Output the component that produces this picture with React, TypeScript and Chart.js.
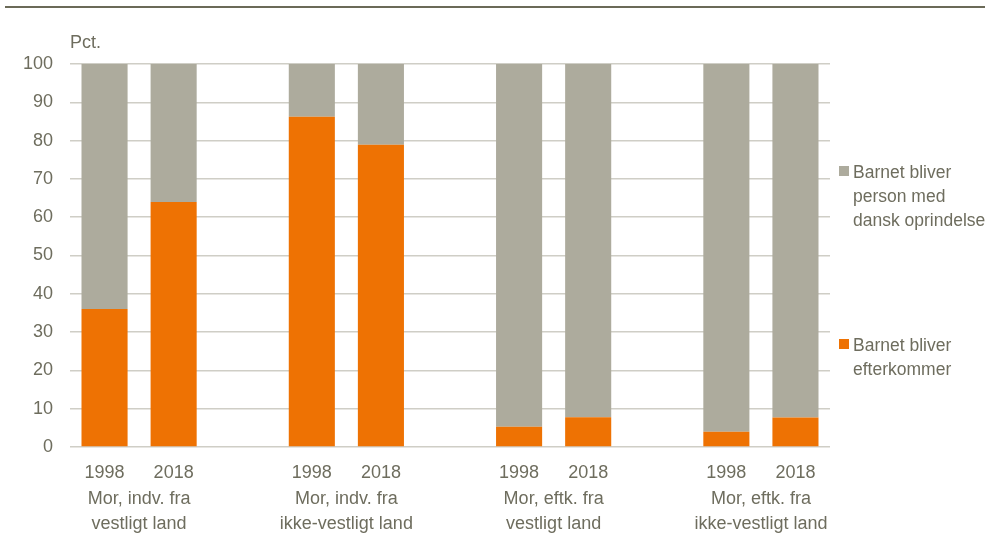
import React, { useEffect, useRef } from "react";
import { Chart, registerables } from "chart.js";

Chart.register(...registerables);

const categories = ["1998", "2018", "", "1998", "2018", "", "1998", "2018", "", "1998", "2018"];
const efterkommer = [36, 64, null, 86.2, 78.9, null, 5.3, 7.8, null, 4.0, 7.7];
const danskOprindelse = [64, 36, null, 13.8, 21.1, null, 94.7, 92.2, null, 96.0, 92.3];
// group labels sit between the two bars of each pair (half-slot positions on a 0..22 grid)
const groupLabelSlots = [2, 8, 14, 20];
const groupLabelsLine1 = ["Mor, indv. fra", "Mor, indv. fra", "Mor, eftk. fra", "Mor, eftk. fra"];
const groupLabelsLine2 = ["vestligt land", "ikke-vestligt land", "vestligt land", "ikke-vestligt land"];
const seriesNames = [
  ["Barnet bliver", "efterkommer"],
  ["Barnet bliver", "person med", "dansk oprindelse"],
];
const yAxisTitle = "Pct.";

function halfSlotLabels(texts: string[]): string[] {
  const arr = Array.from({ length: categories.length * 2 + 1 }, () => "");
  groupLabelSlots.forEach((s, i) => {
    arr[s] = texts[i];
  });
  return arr;
}

const ORANGE = "#EE7203";
const GREY = "#ADAB9D";
const TEXT = "#6E6D5E";
const GRID = "#CFCEC6";
const FONT = "'Liberation Sans', Arial, sans-serif";

const decorPlugin = {
  id: "decor",
  afterDraw(chart: any) {
    const ctx = chart.ctx;
    const area = chart.chartArea;
    ctx.save();
    ctx.strokeStyle = "#6B6A58";
    ctx.lineWidth = 2;
    ctx.beginPath();
    ctx.moveTo(5, 7);
    ctx.lineTo(985, 7);
    ctx.stroke();
    ctx.fillStyle = TEXT;
    ctx.font = `18px ${FONT}`;
    ctx.textBaseline = "middle";
    ctx.textAlign = "left";
    ctx.fillText(yAxisTitle, area.left, 43);
    const items = [
      { color: GREY, lines: seriesNames[1], y: 173 },
      { color: ORANGE, lines: seriesNames[0], y: 346 },
    ];
    ctx.font = `17.5px ${FONT}`;
    items.forEach((it) => {
      ctx.fillStyle = it.color;
      ctx.fillRect(839, it.y - 7, 10, 10);
      ctx.fillStyle = TEXT;
      it.lines.forEach((ln: string, i: number) => {
        ctx.fillText(ln, 853, it.y + i * 24);
      });
    });
    ctx.restore();
  },
};

const groupAxis = (labels: string[], weight: number) => ({
  type: "category" as const,
  position: "bottom" as const,
  weight,
  labels,
  offset: false,
  afterFit: (axis: any) => {
    axis.height = 25;
  },
  grid: { display: false, drawTicks: false, offset: false },
  border: { display: false },
  ticks: {
    color: TEXT,
    font: { family: FONT, size: 18, lineHeight: 1.2 },
    padding: 0,
    autoSkip: false,
    maxRotation: 0,
  },
});

export default function App() {
  const ref = useRef<HTMLCanvasElement>(null);
  useEffect(() => {
    if (!ref.current) return;
    const chart = new Chart(ref.current, {
      type: "bar",
      data: {
        labels: categories,
        datasets: [
          {
            label: seriesNames[0].join(" "),
            data: efterkommer,
            backgroundColor: ORANGE,
            barPercentage: 0.667,
            categoryPercentage: 1,
          },
          {
            label: seriesNames[1].join(" "),
            data: danskOprindelse,
            backgroundColor: GREY,
            barPercentage: 0.667,
            categoryPercentage: 1,
          },
        ],
      },
      options: {
        animation: false,
        responsive: false,
        layout: { padding: { top: 64, right: 158, bottom: 4, left: 0 } },
        plugins: { legend: { display: false }, tooltip: { enabled: false }, title: { display: false } },
        scales: {
          x: {
            type: "category",
            stacked: true,
            weight: 0,
            afterFit: (axis: any) => {
              axis.height = 41;
            },
            grid: { display: false, drawTicks: false },
            border: { display: false },
            ticks: {
              color: TEXT,
              font: { family: FONT, size: 18, lineHeight: 1.2 },
              padding: 15,
              autoSkip: false,
              maxRotation: 0,
            },
          },
          x2: groupAxis(halfSlotLabels(groupLabelsLine1), 1),
          x3: groupAxis(halfSlotLabels(groupLabelsLine2), 2),
          y: {
            stacked: true,
            min: 0,
            max: 100,
            afterFit: (axis: any) => {
              axis.width = 70;
            },
            grid: { color: GRID, lineWidth: 1.5, drawTicks: false },
            border: { display: false },
            ticks: {
              stepSize: 10,
              color: TEXT,
              font: { family: FONT, size: 18 },
              padding: 17,
            },
          },
        },
      },
      plugins: [decorPlugin],
    });
    return () => chart.destroy();
  }, []);
  return (
    <div style={{ position: "absolute", left: 0, top: 0, width: 988, height: 542, background: "#fff" }}>
      <canvas ref={ref} width={988} height={542} />
    </div>
  );
}
